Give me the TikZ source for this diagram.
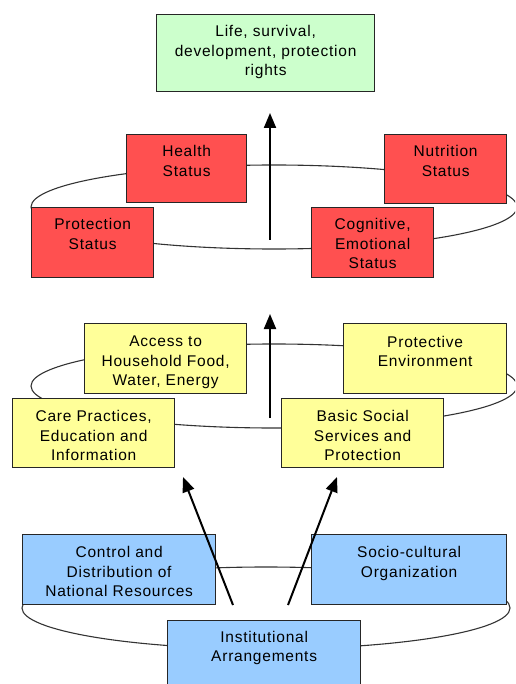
\documentclass[tikz,border=0pt]{standalone}
\usepackage{fontspec}
\setmainfont{Liberation Sans}[LetterSpace=5]
\usetikzlibrary{arrows.meta,calc}
\definecolor{redf}{RGB}{255,80,80}
\definecolor{yelf}{RGB}{255,255,153}
\definecolor{bluf}{RGB}{153,204,255}
\definecolor{grnf}{RGB}{204,255,204}
\begin{document}
\begin{tikzpicture}[x=1pt,y=-1pt,
  box/.style={draw=black!85, line width=1.3pt, inner sep=0pt, anchor=north west},
  lbl/.style={anchor=north, inner sep=0pt, align=center, font=\fontsize{15.5}{19.5}\selectfont, text=black},
  ring/.style={draw=black!80, line width=1.1pt},
  arr/.style={line width=2pt, -{Triangle[width=12pt,length=15pt]}}]
\useasboundingbox (0,0) rectangle (515,684);
\clip (0,0) rectangle (515,684);
% rings
\draw[ring] (274,207) ellipse [x radius=243, y radius=42];
\draw[ring] (274,386) ellipse [x radius=243, y radius=42];
\draw[ring] (266,608) ellipse [x radius=244, y radius=41];
% boxes
\node[box, fill=grnf, minimum width=218pt, minimum height=77pt] (rights) at (156,14) {};
\node[box, fill=redf, minimum width=120pt, minimum height=68pt] (health) at (126,134) {};
\node[box, fill=redf, minimum width=122pt, minimum height=69pt] (nutri) at (384,134) {};
\node[box, fill=redf, minimum width=122pt, minimum height=70pt] (prot) at (31,207) {};
\node[box, fill=redf, minimum width=122pt, minimum height=70pt] (cogn) at (311,207) {};
\node[box, fill=yelf, minimum width=162pt, minimum height=70pt] (access) at (84,323) {};
\node[box, fill=yelf, minimum width=163pt, minimum height=70pt] (penv) at (343,323) {};
\node[box, fill=yelf, minimum width=162pt, minimum height=69pt] (care) at (12,398) {};
\node[box, fill=yelf, minimum width=162pt, minimum height=69pt] (basic) at (281,398) {};
\node[box, fill=bluf, minimum width=193pt, minimum height=70pt] (control) at (22,534) {};
\node[box, fill=bluf, minimum width=195pt, minimum height=70pt] (socio) at (311,534) {};
\node[box, fill=bluf, minimum width=193pt, minimum height=90pt] (inst) at (167,620) {};
% labels
\node[lbl] (trights) at ($(rights.north)+(0,11.5)$) {Life, survival,\\development, protection\\rights};
\node[lbl] (thealth) at ($(health.north)+(0,11.5)$) {Health\\Status};
\node[lbl] (tnutri) at ($(nutri.north)+(0,11.5)$) {Nutrition\\Status};
\node[lbl] (tprot) at ($(prot.north)+(0,11.5)$) {Protection\\Status};
\node[lbl] (tcogn) at ($(cogn.north)+(0,11.5)$) {Cognitive,\\Emotional\\Status};
\node[lbl] (taccess) at ($(access.north)+(0,13)$) {Access to\\Household Food,\\Water, Energy};
\node[lbl] (tpenv) at ($(penv.north)+(0,13)$) {Protective\\Environment};
\node[lbl] (tcare) at ($(care.north)+(0,12.5)$) {Care Practices,\\Education and\\Information};
\node[lbl] (tbasic) at ($(basic.north)+(0,12.5)$) {Basic Social\\Services and\\Protection};
\node[lbl] (tcontrol) at ($(control.north)+(0,12.5)$) {Control and\\Distribution of\\National Resources};
\node[lbl] (tsocio) at ($(socio.north)+(0,12.5)$) {Socio-cultural\\Organization};
\node[lbl] (tinst) at ($(inst.north)+(0,11)$) {Institutional\\Arrangements};
% arrows
\coordinate (a1s) at (270,240); \coordinate (a1e) at (270,113);
\coordinate (a2s) at (270,418); \coordinate (a2e) at (270,314);
\coordinate (a3s) at (233,605); \coordinate (a3e) at (183,477);
\coordinate (a4s) at (288,605); \coordinate (a4e) at (337,477);
\draw[arr] (a1s) -- (a1e);
\draw[arr] (a2s) -- (a2e);
\draw[arr] (a3s) -- (a3e);
\draw[arr] (a4s) -- (a4e);
\end{tikzpicture}
\end{document}
